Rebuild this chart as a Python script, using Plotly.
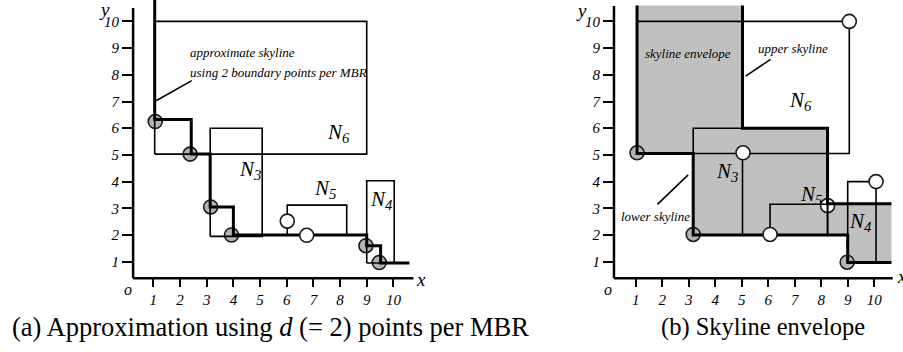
import plotly.graph_objects as go

FONT = "Liberation Serif"
W, H = 903, 352

# ---------------- data ----------------
tick_vals = list(range(1, 11))
tick_text = [str(t) for t in tick_vals]

# Panel (a): approximation using 2 points per MBR
sky_a_x = [1.05, 1.05, 2.42, 2.42, 3.13, 3.13, 4.0, 4.0, 9.0, 9.0, 9.52, 9.52, 10.6]
sky_a_y = [10.8, 6.33, 6.33, 5.03, 5.03, 3.05, 3.05, 2.0, 2.0, 1.6, 1.6, 0.95, 0.95]

mbr_a_names = ["N6", "N3", "N5", "N4"]
mbr_a_x0 = [1.05, 3.13, 6.02, 9.0]
mbr_a_x1 = [9.0, 5.08, 8.25, 10.03]
mbr_a_y0 = [5.03, 1.95, 2.0, 0.95]
mbr_a_y1 = [10.0, 6.0, 3.12, 4.03]
mbr_a_lx = [7.96, 4.62, 7.44, 9.57]
mbr_a_ly = [5.82, 4.44, 3.72, 3.31]

gray_a_x = [1.07, 2.38, 3.15, 3.93, 8.97, 9.47]
gray_a_y = [6.25, 5.03, 3.05, 2.0, 1.6, 0.97]
open_a_x = [6.02, 6.75]
open_a_y = [2.52, 1.99]

# Panel (b): skyline envelope
env_x = [1.05, 5.03, 5.03, 8.24, 8.24, 10.65, 10.65, 9.0, 9.0, 3.17, 3.17, 1.05]
env_y = [10.6, 10.6, 6.0, 6.0, 3.17, 3.17, 0.97, 0.97, 2.0, 2.0, 5.05, 5.05]
lower_b_x = [1.05, 1.05, 3.17, 3.17, 9.0, 9.0, 10.65]
lower_b_y = [10.6, 5.05, 5.05, 2.0, 2.0, 0.97, 0.97]
upper_b_x = [5.03, 5.03, 8.24, 8.24, 10.65]
upper_b_y = [10.6, 6.0, 6.0, 3.17, 3.17]
split_b_x = [5.03, 5.03]
split_b_y = [5.05, 2.0]

mbr_b_names = ["N6", "N3", "N5", "N4"]
mbr_b_x0 = [1.05, 3.17, 6.07, 9.0]
mbr_b_x1 = [9.06, 8.24, 8.24, 10.07]
mbr_b_y0 = [5.05, 2.0, 2.0, 0.97]
mbr_b_y1 = [10.0, 6.0, 3.15, 4.0]
mbr_b_lx = [7.2, 4.45, 7.62, 9.5]
mbr_b_ly = [7.02, 4.36, 3.49, 2.49]

gray_b_x = [1.05, 3.17, 8.98]
gray_b_y = [5.08, 2.02, 0.98]
open_b_x = [9.06, 5.05, 6.07, 10.07]
open_b_y = [10.0, 5.08, 2.02, 4.0]
under_b_x = [8.24]
under_b_y = [3.1]

# ---------------- helpers ----------------
def rect_path(x0s, x1s, y0s, y1s):
    xs, ys = [], []
    for a, b, c, d in zip(x0s, x1s, y0s, y1s):
        xs += [a, b, b, a, a, None]
        ys += [c, c, d, d, c, None]
    return xs, ys

def line(xs, ys, w, xa, ya, color="black"):
    return go.Scatter(x=xs, y=ys, mode="lines", xaxis=xa, yaxis=ya,
                      line=dict(color=color, width=w), hoverinfo="skip",
                      showlegend=False)

def pts(xs, ys, fill, xa, ya):
    return go.Scatter(x=xs, y=ys, mode="markers", xaxis=xa, yaxis=ya,
                      marker=dict(size=14, color=fill,
                                  line=dict(color="#1a1a1a", width=1.6)),
                      hoverinfo="skip", showlegend=False, cliponaxis=False)

GRAY_PT = "#b4b4b4"
fig = go.Figure()

# ---- panel (a) ----
ax_a = ("x", "y")
fig.add_trace(pts(gray_a_x, gray_a_y, GRAY_PT, *ax_a))
rx, ry = rect_path(mbr_a_x0, mbr_a_x1, mbr_a_y0, mbr_a_y1)
fig.add_trace(line(rx, ry, 1.6, *ax_a))
fig.add_trace(line(sky_a_x, sky_a_y, 3, *ax_a))
fig.add_trace(pts(open_a_x, open_a_y, "white", *ax_a))
fig.add_trace(line([2.44, 1.10], [7.78, 7.03], 1.6, *ax_a))
fig.add_trace(line([0.24, 10.75], [0.38, 0.38], 2.5, *ax_a))
fig.add_trace(line([0.24, 0.24], [0.38, 10.5], 2.5, *ax_a))

# ---- panel (b) ----
ax_b = ("x2", "y2")
fig.add_trace(go.Scatter(x=env_x, y=env_y, mode="lines", fill="toself",
                         fillcolor="#c0c0c0", line=dict(width=0),
                         xaxis="x2", yaxis="y2", hoverinfo="skip",
                         showlegend=False))
fig.add_trace(pts(gray_b_x, gray_b_y, GRAY_PT, *ax_b))
fig.add_trace(pts(under_b_x, under_b_y, "white", *ax_b))
rx, ry = rect_path(mbr_b_x0, mbr_b_x1, mbr_b_y0, mbr_b_y1)
fig.add_trace(line(rx, ry, 1.6, *ax_b))
fig.add_trace(line(split_b_x, split_b_y, 1.6, *ax_b))
fig.add_trace(line(lower_b_x, lower_b_y, 3, *ax_b))
fig.add_trace(line(upper_b_x, upper_b_y, 3, *ax_b))
fig.add_trace(pts(open_b_x, open_b_y, "white", *ax_b))
fig.add_trace(line([6.09, 5.15], [8.58, 7.95], 1.6, *ax_b))
fig.add_trace(line([1.82, 2.98], [3.15, 4.25], 1.6, *ax_b))
fig.add_trace(line([0.18, 10.7], [0.38, 0.38], 2.5, *ax_b))
fig.add_trace(line([0.18, 0.18], [0.38, 10.58], 2.5, *ax_b))

# ---------------- axes ----------------
YR = [(288.4 - H) / 26.7, 288.4 / 26.7]
XPOS = (H - 278.3) / H
tickfont = dict(family=FONT, size=15, color="black", style="italic")

def xaxis(domain, rng):
    return dict(domain=domain, range=rng, anchor="free", position=XPOS,
                showline=False, showgrid=False, zeroline=False,
                ticks="outside", ticklen=8, tickwidth=2, tickcolor="black",
                tickvals=tick_vals, ticktext=tick_text, tickfont=tickfont,
                fixedrange=True)

def yaxis(pos):
    return dict(domain=[0, 1], range=YR, anchor="free", position=pos,
                showline=False, showgrid=False, zeroline=False,
                ticks="outside", ticklen=11, tickwidth=2, tickcolor="black",
                tickvals=tick_vals, ticktext=tick_text, tickfont=tickfont,
                fixedrange=True)

fig.update_layout(
    width=W, height=H, autosize=False,
    margin=dict(l=0, r=0, t=0, b=0),
    paper_bgcolor="white", plot_bgcolor="rgba(0,0,0,0)",
    showlegend=False,
    xaxis=xaxis([0, 0.5], [(0 - 126.7) / 26.67, (451.5 - 126.7) / 26.67]),
    yaxis=yaxis(133 / W),
    xaxis2=xaxis([0.5, 1], [(451.5 - 609.2) / 26.5, (903 - 609.2) / 26.5]),
    yaxis2=yaxis(614 / W),
)

# ---------------- annotations ----------------
anns = []

def txt(x, y, s, xr, yr, size, xanchor="center", italic=True):
    anns.append(dict(x=x, y=y, xref=xr, yref=yr, text=s, showarrow=False,
                     xanchor=xanchor, yanchor="middle",
                     font=dict(family=FONT, size=size, color="black",
                               style="italic" if italic else "normal")))

for n, lx, ly in zip(mbr_a_names, mbr_a_lx, mbr_a_ly):
    txt(lx, ly, f"{n[0]}<sub>{n[1]}</sub>", "x", "y", 21)
for n, lx, ly in zip(mbr_b_names, mbr_b_lx, mbr_b_ly):
    txt(lx, ly, f"{n[0]}<sub>{n[1]}</sub>", "x2", "y2", 21)

txt(2.3, 8.85, "approximate skyline", "x", "y", 13, "left")
txt(2.3, 8.1, "using 2 boundary points per MBR", "x", "y", 13, "left")
txt(1.26, 8.8, "skyline envelope", "x2", "y2", 13, "left")
txt(5.53, 9.0, "upper skyline", "x2", "y2", 13, "left")
txt(0.38, 2.69, "lower skyline", "x2", "y2", 13, "left")

# axis names
txt(-0.85, 10.45, "y", "x", "y", 19)
txt(11.05, 0.35, "x", "x", "y", 19)
txt(0.05, -0.05, "o", "x", "y", 16)
txt(-1.05, 10.4, "y", "x2", "y2", 19)
txt(11.05, 0.45, "x", "x2", "y2", 19)
txt(-0.05, -0.05, "o", "x2", "y2", 16)

# captions
txt(270 / W, (H - 327) / H, "(a) Approximation using <i>d</i> (= 2) points per MBR",
    "paper", "paper", 26.5, italic=False)
txt(763 / W, (H - 327) / H, "(b) Skyline envelope", "paper", "paper", 24.5,
    italic=False)

fig.update_layout(annotations=anns)
fig.write_html(
    "out.html",
    config={"displayModeBar": False, "staticPlot": True},
    post_script="document.body.style.margin='0px';"
                "document.body.style.padding='0px';"
                "document.body.style.overflow='hidden';",
)
